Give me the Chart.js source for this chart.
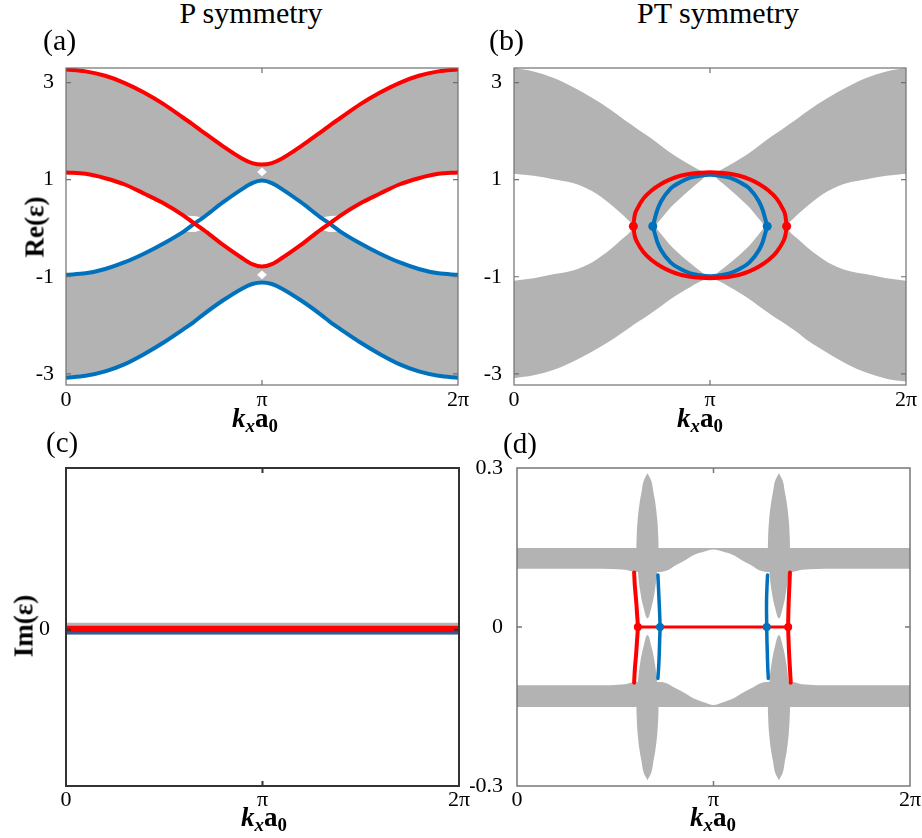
<!DOCTYPE html>
<html><head><meta charset="utf-8">
<script src="https://cdn.jsdelivr.net/npm/chart.js@4.4.1/dist/chart.umd.min.js"></script>
<style>
html,body{margin:0;padding:0;background:#fff;}
#fig{position:relative;width:922px;height:838px;overflow:hidden;font-family:'Liberation Serif','Times New Roman','Tinos','DejaVu Serif',serif;color:#000;}
canvas{position:absolute;}
.t{position:absolute;white-space:nowrap;line-height:1;}
.c{transform:translateX(-50%);}
.yl{transform:translate(-50%,-50%) rotate(-90deg);font-weight:bold;font-size:27px;}
.xl{transform:translateX(-50%);font-weight:bold;font-size:27px;}
.xl sub{font-size:0.7em;line-height:0;vertical-align:baseline;position:relative;top:0.28em;}
</style></head><body><div id="fig">
<canvas id="ca" width="475" height="364" style="left:0;top:56px;width:475px;height:364px"></canvas>
<canvas id="cb" width="452" height="364" style="left:470px;top:56px;width:452px;height:364px"></canvas>
<canvas id="cc" width="480" height="382" style="left:0;top:456px;width:480px;height:382px"></canvas>
<canvas id="cd" width="452" height="382" style="left:470px;top:456px;width:452px;height:382px"></canvas>
<div class="t c" style="left:251px;top:-2px;font-size:30px">P symmetry</div>
<div class="t c" style="left:718px;top:-2px;font-size:30px">PT symmetry</div>
<div class="t" style="left:43px;top:25px;font-size:30px">(a)</div>
<div class="t" style="left:489px;top:25px;font-size:30px">(b)</div>
<div class="t" style="left:46px;top:428px;font-size:29px">(c)</div>
<div class="t" style="left:503px;top:429px;font-size:29px">(d)</div>
<div class="t yl" style="left:35px;top:227px">Re(ε)</div>
<div class="t yl" style="left:24px;top:626px">Im(ε)</div>
<div class="t xl" style="left:255px;top:405px"><i>k</i><sub><i>x</i></sub>a<sub>0</sub></div>
<div class="t xl" style="left:700px;top:405px"><i>k</i><sub><i>x</i></sub>a<sub>0</sub></div>
<div class="t xl" style="left:264px;top:804px"><i>k</i><sub><i>x</i></sub>a<sub>0</sub></div>
<div class="t xl" style="left:713px;top:804px"><i>k</i><sub><i>x</i></sub>a<sub>0</sub></div>
</div>
<script>
// ---------- axis ticks (k in units of pi) ----------
const xTickVals = [0, 1, 2];
const xTickText = ['0', 'π', '2π'];
const reTickVals = [-3, -1, 1, 3];
const reTickText = ['-3', '-1', '1', '3'];
const imcTickVals = [0];
const imcTickText = ['0'];
const imdTickVals = [-0.3, 0, 0.3];
const imdTickText = ['-0.3', '0', '0.3'];

// ---------- (a) P symmetry, Re ----------
const kA = [0,0.1,0.2,0.3,0.4,0.5,0.6,0.65,0.7,0.8,0.9,0.95,1,1.05,1.1,1.2,1.3,1.35,1.4,1.5,1.6,1.7,1.8,1.9,2];
const aRedTop  = [3.27,3.23,3.14,2.99,2.79,2.55,2.27,2.13,1.98,1.69,1.43,1.34,1.31,1.34,1.43,1.69,1.98,2.13,2.27,2.55,2.79,2.99,3.14,3.23,3.27];
const aRedMid  = [1.15,1.12,1.03,0.90,0.71,0.51,0.26,0.11,-0.03,-0.34,-0.62,-0.74,-0.79,-0.74,-0.62,-0.34,-0.03,0.11,0.26,0.51,0.71,0.90,1.03,1.12,1.15];
const aBlueMid = [-0.96,-0.93,-0.84,-0.70,-0.52,-0.31,-0.07,0.08,0.22,0.53,0.81,0.93,0.98,0.93,0.81,0.53,0.22,0.08,-0.07,-0.31,-0.52,-0.70,-0.84,-0.93,-0.96];
const aBlueLow = [-3.08,-3.04,-2.95,-2.80,-2.59,-2.35,-2.08,-1.94,-1.78,-1.49,-1.24,-1.15,-1.12,-1.15,-1.24,-1.49,-1.78,-1.94,-2.08,-2.35,-2.59,-2.80,-2.95,-3.04,-3.08];
const aGrayUpLo = [1.15,1.12,1.03,0.90,0.71,0.51,0.26,0.25,0.22,0.53,0.81,0.93,0.98,0.93,0.81,0.53,0.22,0.25,0.26,0.51,0.71,0.90,1.03,1.12,1.15];
const aGrayDnHi = [-0.96,-0.93,-0.84,-0.70,-0.52,-0.31,-0.07,-0.08,-0.03,-0.34,-0.62,-0.74,-0.79,-0.74,-0.62,-0.34,-0.03,-0.08,-0.07,-0.31,-0.52,-0.70,-0.84,-0.93,-0.96];
const aNotchK = [0.975, 1.0, 1.025];
const aNotchUpHi = [1.16, 1.25, 1.16];
const aNotchUpLo = [1.16, 1.07, 1.16];
const aNotchDnHi = [-0.96, -0.87, -0.96];
const aNotchDnLo = [-0.96, -1.05, -0.96];

// ---------- (b) PT symmetry, Re ----------
const kB = [0,0.1,0.2,0.3,0.4,0.5,0.55,0.6,0.61,0.66,0.71,0.75,0.8,0.85,0.9,0.95,1,1.05,1.1,1.15,1.2,1.25,1.29,1.34,1.39,1.4,1.45,1.5,1.6,1.7,1.8,1.9,2];
const bGrayUpHi = [3.30,3.23,3.10,2.91,2.68,2.42,2.27,2.13,2.10,1.96,1.82,1.70,1.55,1.42,1.30,1.19,1.13,1.19,1.30,1.42,1.55,1.70,1.82,1.96,2.10,2.13,2.27,2.42,2.68,2.91,3.10,3.23,3.30];
const bGrayUpLo = [1.12,1.08,1.01,0.93,0.76,0.47,0.29,0.09,0.04,0.04,0.04,0.19,0.43,0.62,0.80,0.97,1.13,0.97,0.80,0.62,0.43,0.19,0.04,0.04,0.04,0.09,0.29,0.47,0.76,0.93,1.01,1.08,1.12];
const bGrayDnHi = [-1.08,-1.03,-0.95,-0.87,-0.70,-0.41,-0.23,-0.03,0.05,0.06,0.05,-0.12,-0.36,-0.55,-0.72,-0.88,-1.03,-0.88,-0.72,-0.55,-0.36,-0.12,0.05,0.06,0.05,-0.03,-0.23,-0.41,-0.70,-0.87,-0.95,-1.03,-1.08];
const bGrayDnLo = [-3.09,-3.03,-2.92,-2.75,-2.54,-2.30,-2.16,-2.02,-1.99,-1.86,-1.72,-1.61,-1.46,-1.33,-1.21,-1.10,-1.03,-1.10,-1.21,-1.33,-1.46,-1.61,-1.72,-1.86,-1.99,-2.02,-2.16,-2.32,-2.57,-2.80,-2.98,-3.10,-3.16];
const bRedK  = [0.609,0.615,0.63,0.66,0.70,0.75,0.80,0.85,0.90,0.95,1.0,1.05,1.10,1.15,1.20,1.25,1.30,1.34,1.37,1.385,1.391];
const bRedUp = [0.04,0.25,0.41,0.61,0.77,0.91,1.01,1.08,1.12,1.14,1.15,1.14,1.12,1.08,1.01,0.91,0.77,0.61,0.41,0.25,0.04];
const bRedDn = [0.04,-0.14,-0.30,-0.49,-0.65,-0.79,-0.89,-0.96,-1.00,-1.02,-1.03,-1.02,-1.00,-0.96,-0.89,-0.79,-0.65,-0.49,-0.30,-0.14,0.04];
const bBlueK  = [0.708,0.712,0.72,0.73,0.75,0.80,0.85,0.90,0.95,1.0,1.05,1.10,1.15,1.20,1.25,1.27,1.28,1.288,1.292];
const bBlueUp = [0.04,0.10,0.22,0.36,0.55,0.82,0.95,1.04,1.08,1.10,1.08,1.04,0.95,0.82,0.55,0.36,0.22,0.10,0.04];
const bBlueDn = [0.04,-0.02,-0.13,-0.27,-0.45,-0.71,-0.84,-0.93,-0.97,-0.99,-0.97,-0.93,-0.84,-0.71,-0.45,-0.27,-0.13,-0.02,0.04];
const bRedDotK = [0.609, 1.391], bRedDotV = [0.04, 0.04];
const bBlueDotK = [0.708, 1.292], bBlueDotV = [0.04, 0.04];

// ---------- (c) P symmetry, Im ----------
const kC = [0, 2];
const cGrayHi = [0.013, 0.013];
const cGrayLo = [-0.010, -0.010];
const cRed = [0.001, 0.001];
const cBlue = [-0.004, -0.004];

// ---------- (d) PT symmetry, Im ----------
const kD = [0,0.2,0.4,0.55,0.6,0.65,0.7,0.73,0.76,0.81,0.86,0.9,0.95,1,1.05,1.1,1.14,1.19,1.24,1.27,1.3,1.35,1.4,1.45,1.6,1.8,2];
const dUpHi = [0.149,0.149,0.149,0.149,0.149,0.149,0.149,0.149,0.149,0.149,0.149,0.149,0.149,0.149,0.149,0.149,0.149,0.149,0.149,0.149,0.149,0.149,0.149,0.149,0.149,0.149,0.149];
const dUpLo = [0.110,0.110,0.110,0.108,0.104,0.104,0.104,0.104,0.106,0.117,0.127,0.136,0.142,0.146,0.142,0.136,0.127,0.117,0.106,0.104,0.104,0.104,0.104,0.108,0.110,0.110,0.110];
const dDnHi = [-0.110,-0.110,-0.110,-0.108,-0.104,-0.104,-0.104,-0.104,-0.106,-0.116,-0.126,-0.135,-0.142,-0.147,-0.142,-0.135,-0.126,-0.116,-0.106,-0.104,-0.104,-0.104,-0.104,-0.108,-0.110,-0.110,-0.110];
const dDnLo = [-0.151,-0.151,-0.151,-0.151,-0.151,-0.151,-0.151,-0.151,-0.151,-0.151,-0.151,-0.151,-0.151,-0.151,-0.151,-0.151,-0.151,-0.151,-0.151,-0.151,-0.151,-0.151,-0.151,-0.151,-0.151,-0.151,-0.151];
// spindle outlines (closed loops)
const dSpLeftK  = [0.664,0.684,0.694,0.704,0.714,0.719,0.720,0.717,0.712,0.702,0.685,0.664,0.643,0.626,0.616,0.611,0.608,0.609,0.614,0.624,0.634,0.644,0.664];
const dSpRightK = [1.333,1.353,1.363,1.373,1.383,1.388,1.389,1.386,1.381,1.371,1.354,1.333,1.312,1.295,1.285,1.280,1.277,1.278,1.283,1.293,1.303,1.313,1.333];
const dSpUpV = [0.290,0.275,0.255,0.234,0.202,0.170,0.149,0.125,0.101,0.070,0.038,0.016,0.038,0.070,0.101,0.125,0.149,0.170,0.202,0.234,0.255,0.275,0.290];
const dSpDnV = [-0.289,-0.274,-0.254,-0.233,-0.201,-0.169,-0.149,-0.125,-0.101,-0.070,-0.038,-0.015,-0.038,-0.070,-0.101,-0.125,-0.149,-0.169,-0.201,-0.233,-0.254,-0.274,-0.289];
const dRedLK = [0.596,0.600,0.606,0.611,0.615,0.611,0.606,0.600,0.596];
const dRedRK = [1.389,1.386,1.383,1.381,1.380,1.382,1.385,1.389,1.393];
const dRedV  = [0.103,0.076,0.051,0.025,0,-0.025,-0.052,-0.078,-0.105];
const dBlueLK = [0.717,0.720,0.723,0.726,0.728,0.726,0.724,0.721,0.717];
const dBlueRK = [1.275,1.272,1.270,1.270,1.271,1.272,1.274,1.276,1.279];
const dBlueV  = [0.098,0.075,0.050,0.025,0,-0.025,-0.050,-0.075,-0.097];
const dRedHK = [0.615, 1.380], dRedHV = [0, 0];
const dRedDotK = [0.615, 1.380], dRedDotV = [0, 0];
const dBlueDotK = [0.728, 1.271], dBlueDotV = [0, 0];

// ---------- helpers ----------
const GRAY = '#b3b3b3', RED = '#ff0000', BLUE = '#0072bd', WHITE = '#ffffff';
const FONT = "'Liberation Serif','Times New Roman','Tinos','DejaVu Serif',serif";
Chart.defaults.font.family = FONT;
Chart.defaults.color = '#000';
const pts = (ks, vs) => ks.map((k, i) => ({x: k, y: vs[i]}));
function band(ks, lo, hi, color, order, tension) {
  const base = {borderWidth: 0, borderColor: 'rgba(0,0,0,0)', pointRadius: 0, pointHoverRadius: 0,
    backgroundColor: color, order: order};
  if (tension === undefined) base.cubicInterpolationMode = 'monotone'; else base.tension = tension;
  return [Object.assign({data: pts(ks, lo), fill: false}, base),
          Object.assign({data: pts(ks, hi), fill: '-1'}, base)];
}
function curve(ks, vs, color, w, order, free) {
  const d = {data: pts(ks, vs), borderColor: color, borderWidth: w, pointRadius: 0, pointHoverRadius: 0,
    fill: false, order: order, borderCapStyle: 'round', borderJoinStyle: 'round'};
  if (free) d.tension = 0.3; else d.cubicInterpolationMode = 'monotone';
  return d;
}
function dots(ks, vs, color, r) {
  return {data: pts(ks, vs), showLine: false, pointRadius: r, pointHoverRadius: r,
    pointBackgroundColor: color, pointBorderColor: color, pointBorderWidth: 0, order: -1};
}
function shape(ks, vs, color) {
  return {data: pts(ks, vs), borderWidth: 0, borderColor: 'rgba(0,0,0,0)', pointRadius: 0, pointHoverRadius: 0,
    fill: 'shape', backgroundColor: color, tension: 0.4, order: 10};
}
const frame = {
  id: 'frame',
  afterDatasetsDraw(chart, args, o) {
    const {ctx, chartArea: a} = chart, x = chart.scales.x, y = chart.scales.y;
    ctx.save();
    ctx.strokeStyle = o.color; ctx.lineWidth = o.width;
    ctx.strokeRect(a.left, a.top, a.right - a.left, a.bottom - a.top);
    ctx.beginPath();
    const tl = 5;
    x.ticks.forEach(t => { const p = x.getPixelForValue(t.value);
      if (p > a.left + 2 && p < a.right - 2) { ctx.moveTo(p, a.bottom); ctx.lineTo(p, a.bottom - tl); ctx.moveTo(p, a.top); ctx.lineTo(p, a.top + tl); } });
    y.ticks.forEach(t => { const p = y.getPixelForValue(t.value);
      if (p > a.top + 2 && p < a.bottom - 2) { ctx.moveTo(a.left, p); ctx.lineTo(a.left + tl, p); ctx.moveTo(a.right, p); ctx.lineTo(a.right - tl, p); } });
    ctx.stroke();
    ctx.restore();
  }
};
function makeChart(id, c) {
  return new Chart(document.getElementById(id), {
    type: 'line',
    data: {datasets: c.datasets},
    options: {
      responsive: false, maintainAspectRatio: false, animation: false, events: [],
      layout: {padding: {top: c.pt, right: c.pr, bottom: 0, left: 0}},
      plugins: {legend: {display: false}, tooltip: {enabled: false}, frame: {color: c.frame, width: c.fw}},
      scales: {
        x: {type: 'linear', min: 0, max: 2, grid: {display: false}, border: {display: false},
          afterBuildTicks(s) { s.ticks = xTickVals.map(v => ({value: v})); },
          ticks: {autoSkip: false, maxRotation: 0, minRotation: 0, padding: c.xpad, font: {size: 22, family: FONT}, color: '#000',
            callback: (v, i) => xTickText[i]},
          afterFit(s) { s.height = c.xh; s.paddingLeft = 0; s.paddingRight = 0; }},
        y: {type: 'linear', min: c.ymin, max: c.ymax, grid: {display: false}, border: {display: false},
          afterBuildTicks(s) { s.ticks = c.yVals.map(v => ({value: v})); },
          ticks: {autoSkip: false, padding: c.ypad, font: {size: 22, family: FONT}, color: '#000',
            callback: (v, i) => c.yText[i]},
          afterFit(s) { s.width = c.yw; s.paddingTop = 0; s.paddingBottom = 0; }}
      }
    },
    plugins: [frame]
  });
}

// ---------- (a) ----------
makeChart('ca', {
  pt: 12, pr: 17, yw: 66, xh: 35, xpad: -6, ypad: 4, ymin: -3.23, ymax: 3.3,
  yVals: reTickVals, yText: reTickText, frame: '#707070', fw: 1.2,
  datasets: [
    ...band(kA, aGrayUpLo, aRedTop, GRAY, 10),
    ...band(kA, aBlueLow, aGrayDnHi, GRAY, 10),
    ...band(aNotchK, aNotchUpLo, aNotchUpHi, WHITE, 5, 0),
    ...band(aNotchK, aNotchDnLo, aNotchDnHi, WHITE, 5, 0),
    curve(kA, aBlueMid, BLUE, 4, 2),
    curve(kA, aBlueLow, BLUE, 4, 2),
    curve(kA, aRedTop, RED, 4, 1),
    curve(kA, aRedMid, RED, 4, 1)
  ]
});

// ---------- (b) ----------
makeChart('cb', {
  pt: 12, pr: 16, yw: 44, xh: 35, xpad: -6, ypad: 4, ymin: -3.23, ymax: 3.3,
  yVals: reTickVals, yText: reTickText, frame: '#707070', fw: 1.2,
  datasets: [
    ...band(kB, bGrayUpLo, bGrayUpHi, GRAY, 10),
    ...band(kB, bGrayDnLo, bGrayDnHi, GRAY, 10),
    curve(bBlueK, bBlueUp, BLUE, 4, 2),
    curve(bBlueK, bBlueDn, BLUE, 4, 2),
    curve(bRedK, bRedUp, RED, 4, 1),
    curve(bRedK, bRedDn, RED, 4, 1),
    dots(bBlueDotK, bBlueDotV, BLUE, 4.5),
    dots(bRedDotK, bRedDotV, RED, 4.5)
  ]
});

// ---------- (c) ----------
makeChart('cc', {
  pt: 12, pr: 21, yw: 66, xh: 52, xpad: -7, ypad: 8, ymin: -0.295, ymax: 0.305,
  yVals: imcTickVals, yText: imcTickText, frame: '#333333', fw: 2,
  datasets: [
    ...band(kC, cGrayLo, cGrayHi, GRAY, 10, 0),
    curve(kC, cBlue, BLUE, 5, 2),
    curve(kC, cRed, RED, 6.5, 1)
  ]
});

// ---------- (d) ----------
makeChart('cd', {
  pt: 12, pr: 12, yw: 47, xh: 52, xpad: -7, ypad: 6, ymin: -0.3, ymax: 0.3,
  yVals: imdTickVals, yText: imdTickText, frame: '#777777', fw: 1.5,
  datasets: [
    ...band(kD, dUpLo, dUpHi, GRAY, 10),
    ...band(kD, dDnLo, dDnHi, GRAY, 10),
    shape(dSpLeftK, dSpUpV, GRAY),
    shape(dSpLeftK, dSpDnV, GRAY),
    shape(dSpRightK, dSpUpV, GRAY),
    shape(dSpRightK, dSpDnV, GRAY),
    curve(dRedHK, dRedHV, RED, 3, 3),
    curve(dBlueLK, dBlueV, BLUE, 3.5, 2, true),
    curve(dBlueRK, dBlueV, BLUE, 3.5, 2, true),
    curve(dRedLK, dRedV, RED, 4, 1, true),
    curve(dRedRK, dRedV, RED, 4, 1, true),
    dots(dBlueDotK, dBlueDotV, BLUE, 4),
    dots(dRedDotK, dRedDotV, RED, 4)
  ]
});
</script>
</body></html>
